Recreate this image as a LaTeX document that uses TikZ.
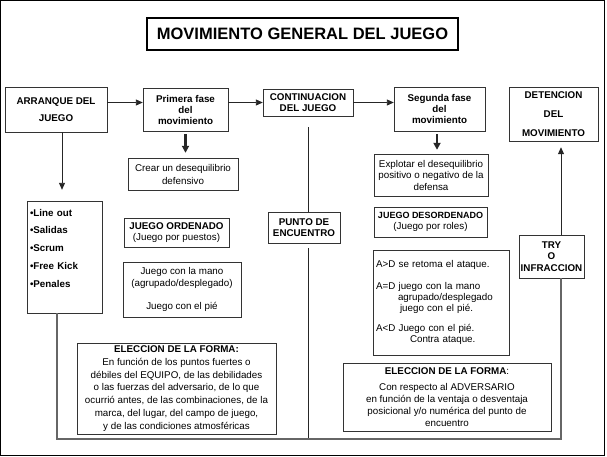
\documentclass[tikz,border=0pt]{standalone}
\usepackage{fontspec}
\setmainfont{Liberation Sans}
\usetikzlibrary{arrows.meta,shadows}

\tikzset{
  caja/.style={draw=black!80, fill=white, inner sep=1pt, align=center,
    drop shadow={shadow xshift=1.2pt, shadow yshift=-1.2pt, fill=black!45, opacity=1},
    font=\fontsize{9.8}{11.5}\selectfont},
  negrita/.style={caja, font=\fontsize{9.8}{11}\selectfont\bfseries},
  flecha/.style={-{Triangle[length=7pt,width=6pt]}, line width=0.9pt, black!85},
  gruesa/.style={-{Triangle[length=7pt,width=7pt]}, line width=2.6pt, black!85},
  linea/.style={line width=0.9pt, black!85},
  lazo/.style={line width=1.6pt, black!60},
}

\begin{document}
\begin{tikzpicture}[x=1pt, y=-1pt]
  \useasboundingbox (0,0) rectangle (607,456);
  % marco exterior
  \draw[black, line width=1pt] (0.5,0.5) rectangle (604,455);
  % titulo
  \node[draw=black, line width=1.2pt, fill=white, minimum width=311pt, minimum height=32pt,
        font=\fontsize{16.5}{18}\selectfont\bfseries] (titulo) at (302.5,34) {MOVIMIENTO GENERAL DEL JUEGO};

  % fila superior
  \node[negrita, minimum width=102pt, minimum height=45pt, font=\fontsize{9.8}{17}\selectfont\bfseries]
    (arranque) at (56,109.5) {ARRANQUE DEL\\JUEGO};
  \node[negrita, minimum width=85pt, minimum height=43pt] (primera) at (185.5,109.5) {Primera fase\\del\\movimiento};
  \node[negrita, minimum width=90pt, minimum height=27pt] (continuacion) at (308,102.5) {CONTINUACION\\DEL JUEGO};
  \node[negrita, minimum width=91pt, minimum height=44pt] (segunda) at (439.5,109) {Segunda fase\\del\\movimiento};
  \node[negrita, minimum width=89pt, minimum height=54pt, font=\fontsize{9.8}{19}\selectfont\bfseries]
    (detencion) at (553.5,114) {DETENCION\\DEL\\MOVIMIENTO};

  % columna izquierda
  \node[negrita, minimum height=112pt, text width=69pt, inner sep=3pt, align=left,
        font=\fontsize{9.8}{17.8}\selectfont\bfseries] (lista) at (64.5,257)
    {\textbullet{}Line out\\\textbullet{}Salidas\\\textbullet{}Scrum\\\textbullet{}Free Kick\\\textbullet{}Penales\\~};
  \node[caja, minimum width=110pt, minimum height=32pt, font=\fontsize{9.8}{13}\selectfont]
    (crear) at (183,174) {Crear un desequilibrio\\defensivo};
  \node[caja, minimum width=105pt, minimum height=29pt] (ordenado) at (176.5,232.5)
    {\textbf{JUEGO ORDENADO}\\(Juego por puestos)};
  \node[caja, minimum width=118pt, minimum height=55pt] (mano) at (182,289.5)
    {Juego con la mano\\(agrupado/desplegado)\\[11.5pt]Juego con el pié};
  \node[caja, minimum width=199pt, minimum height=91pt, font=\fontsize{9.8}{12.8}\selectfont]
    (eleccionA) at (176.5,388.5)
    {\textbf{ELECCION DE LA FORMA:}\\En función de los puntos fuertes o\\débiles del EQUIPO, de las debilidades\\o las fuerzas del adversario, de lo que\\ocurrió antes, de las combinaciones, de la\\marca, del lugar, del campo de juego,\\y de las condiciones atmosféricas};

  % centro
  \node[negrita, minimum width=72pt, minimum height=31pt] (punto) at (304,227.5) {PUNTO DE\\ENCUENTRO};

  % columna derecha
  \node[caja, minimum width=114pt, minimum height=42pt] (explotar) at (431,175)
    {Explotar el desequilibrio\\positivo o negativo de la\\defensa};
  \node[caja, minimum width=113pt, minimum height=30pt] (desordenado) at (430.5,222)
    {{\fontsize{9}{11}\selectfont\bfseries JUEGO DESORDENADO}\\(Juego por roles)};
  \node[caja, minimum height=105pt, text width=130pt, inner sep=3pt, align=left,
        font=\fontsize{9.8}{11}\selectfont] (ataque) at (441,302.5)
    {A>D se retoma el ataque.\\[11pt]A=D juego con la mano\\\hspace*{22pt}agrupado/desplegado\\\hspace*{24pt}juego con el pié.\\[9pt]A<D Juego con el pié.\\\hspace*{34pt}Contra ataque.};
  \node[caja, minimum width=208pt, minimum height=68pt, font=\fontsize{9.8}{12}\selectfont]
    (eleccionB) at (447,397)
    {\textbf{ELECCION DE LA FORMA}:\\[4pt]Con respecto al ADVERSARIO\\en función de la ventaja o desventaja\\posicional y/o numérica del punto de\\encuentro};
  \node[negrita, minimum width=65pt, minimum height=43pt, font=\fontsize{9.8}{11.5}\selectfont\bfseries]
    (try) at (551.5,256.5) {TRY\\O\\INFRACCION};

  % esquinas del lazo
  \coordinate (esqA) at (57,439);
  \coordinate (esqB) at (561,439);

  % conectores
  \draw[flecha] (arranque.east |- continuacion) -- (primera.west |- continuacion);
  \draw[flecha] (primera.east |- continuacion) -- (continuacion.west);
  \draw[flecha] (continuacion.east) -- (segunda.west |- continuacion);
  \draw[gruesa, shorten <=3pt, shorten >=5pt] (primera.south) -- (primera.south |- crear.north);
  \draw[gruesa, shorten <=3pt, shorten >=4pt] ([xshift=-2.5pt]segunda.south) -- ([xshift=-2.5pt]segunda.south |- explotar.north);
  \draw[flecha, shorten >=11pt] ([xshift=6pt]arranque.south) -- ([xshift=6pt]arranque.south |- lista.north);
  \draw[linea, shorten <=11pt] (continuacion.south) -- (continuacion.south |- punto.north);
  \draw[linea, shorten <=5pt] (punto.south -| continuacion) -- (continuacion |- esqA);
  \draw[lazo] (lista.south -| esqA) -- (esqA) -- (esqB) -- (try.south -| esqB);
  \draw[flecha, shorten >=6pt] (try.north -| esqB) -- (detencion.south -| esqB);
\end{tikzpicture}
\end{document}
